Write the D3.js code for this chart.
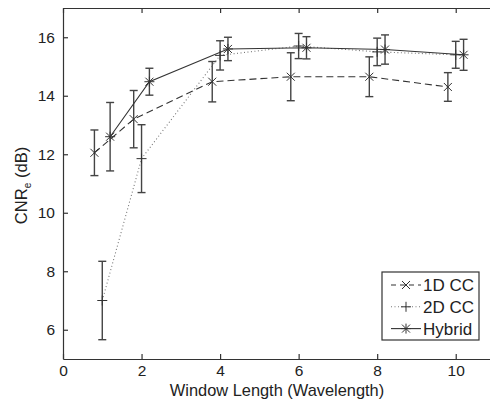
<!DOCTYPE html>
<html>
<head>
<meta charset="utf-8">
<script src="https://cdn.jsdelivr.net/npm/d3@7"></script>
<style>
  body { margin: 0; background: #fff; }
  svg { display: block; font-family: Arial, "Liberation Sans", sans-serif; }
</style>
</head>
<body>
<div id="chart"></div>
<script>
// values
var series_names = ["1D CC", "2D CC", "Hybrid"];

var x_1d = [0.8, 1.8, 3.8, 5.8, 7.8, 9.8];
var y_1d = [12.05, 13.2, 14.48, 14.65, 14.65, 14.3];
var e_1d = [0.78, 0.98, 0.69, 0.82, 0.68, 0.49];

var x_2d = [1.0, 2.0, 4.0, 6.0, 8.0, 10.0];
var y_2d = [7.0, 11.85, 15.38, 15.7, 15.5, 15.4];
var e_2d = [1.34, 1.16, 0.5, 0.43, 0.47, 0.46];

var x_hy = [1.2, 2.2, 4.2, 6.2, 8.2, 10.2];
var y_hy = [12.6, 14.48, 15.6, 15.64, 15.58, 15.4];
var e_hy = [1.17, 0.46, 0.4, 0.38, 0.5, 0.53];

var x_ticks = [0, 2, 4, 6, 8, 10];
var y_ticks = [6, 8, 10, 12, 14, 16];

var svg_width = 490,
    svg_height = 402,
    margin = {top: 8, right: -5, bottom: 43, left: 63},
    width = svg_width - margin.left - margin.right,
    height = svg_height - margin.top - margin.bottom;

var ink = "#333";

var svg = d3.select("#chart").append("svg")
    .attr("width", svg_width)
    .attr("height", svg_height);

var g = svg.append("g")
    .attr("transform", "translate(" + margin.left + "," + margin.top + ")");

var x = d3.scaleLinear().domain([0, 11]).range([0, width]);
var y = d3.scaleLinear().domain([5, 17]).range([height, 0]);

// axes, matlab style: ticks pointing inward, box all round
var xAxis = g.append("g")
    .attr("transform", "translate(0," + height + ")")
    .call(d3.axisBottom(x).tickValues(x_ticks).tickSizeInner(-5).tickSizeOuter(0).tickPadding(6));
var yAxis = g.append("g")
    .call(d3.axisLeft(y).tickValues(y_ticks).tickSizeInner(-5).tickSizeOuter(0).tickPadding(8));
g.append("g")
    .call(d3.axisTop(x).tickValues(x_ticks).tickSizeInner(-5).tickSizeOuter(0).tickFormat(""));
g.append("g")
    .attr("transform", "translate(" + width + ",0)")
    .call(d3.axisRight(y).tickValues(y_ticks).tickSizeInner(-5).tickSizeOuter(0).tickFormat(""));

g.selectAll(".domain, .tick line").attr("stroke", ink).attr("stroke-width", 1.2);
g.selectAll(".tick text").attr("fill", "#222").style("font-size", "15.5px");

// axis titles
g.append("text")
    .attr("x", width / 2 - 2)
    .attr("y", height + 37)
    .attr("text-anchor", "middle")
    .attr("fill", "#222")
    .style("font-size", "16.4px")
    .text("Window Length (Wavelength)");

var ylab = g.append("text")
    .attr("text-anchor", "middle")
    .attr("transform", "translate(" + (27 - margin.left) + "," + (height / 2 + 2) + ")rotate(-90)")
    .attr("fill", "#222")
    .style("font-size", "16.6px");
ylab.append("tspan").text("CNR");
ylab.append("tspan").attr("dy", 4).style("font-size", "10px").text("e");
ylab.append("tspan").attr("dy", -4).text(" (dB)");

// marker shapes
function drawMarker(sel, type, cx, cy) {
    var s = 4;
    var path;
    if (type == "x") {
        path = "M" + (cx - s) + "," + (cy - s) + "L" + (cx + s) + "," + (cy + s) +
               "M" + (cx - s) + "," + (cy + s) + "L" + (cx + s) + "," + (cy - s);
    } else if (type == "+") {
        path = "M" + (cx - 5) + "," + cy + "L" + (cx + 5) + "," + cy +
               "M" + cx + "," + (cy - 5) + "L" + cx + "," + (cy + 5);
    } else {
        path = "M" + (cx - 5) + "," + cy + "L" + (cx + 5) + "," + cy +
               "M" + (cx - s) + "," + (cy - s) + "L" + (cx + s) + "," + (cy + s) +
               "M" + (cx - s) + "," + (cy + s) + "L" + (cx + s) + "," + (cy - s) +
               "M" + cx + "," + (cy - 5) + "L" + cx + "," + (cy + 5);
    }
    sel.append("path").attr("d", path).attr("stroke", ink).attr("stroke-width", 1).attr("fill", "none");
}

var series = [
    {xs: x_1d, ys: y_1d, es: e_1d, dash: "7,4", marker: "x"},
    {xs: x_2d, ys: y_2d, es: e_2d, dash: "1,2.5", marker: "+"},
    {xs: x_hy, ys: y_hy, es: e_hy, dash: null, marker: "*"}
];

var line = d3.line()
    .x(function(d) { return x(d[0]); })
    .y(function(d) { return y(d[1]); });

series.forEach(function(s) {
    var pts = s.xs.map(function(v, i) { return [v, s.ys[i], s.es[i]]; });

    var sg = g.append("g");

    // error bars
    pts.forEach(function(p) {
        var cx = x(p[0]), top = y(p[1] + p[2]), bot = y(p[1] - p[2]);
        sg.append("line").attr("x1", cx).attr("x2", cx).attr("y1", top).attr("y2", bot)
            .attr("stroke", "#444").attr("stroke-width", 1.4);
        sg.append("line").attr("x1", cx - 4).attr("x2", cx + 4).attr("y1", top).attr("y2", top)
            .attr("stroke", "#444").attr("stroke-width", 1.4);
        sg.append("line").attr("x1", cx - 4).attr("x2", cx + 4).attr("y1", bot).attr("y2", bot)
            .attr("stroke", "#444").attr("stroke-width", 1.4);
    });

    sg.append("path")
        .datum(pts)
        .attr("d", line)
        .attr("fill", "none")
        .attr("stroke", s.dash == "1,2.5" ? "#777" : ink)
        .attr("stroke-width", 1.1)
        .attr("stroke-dasharray", s.dash);

    pts.forEach(function(p) {
        drawMarker(sg, s.marker, x(p[0]), y(p[1]));
    });
});

// legend
var lg = svg.append("g").attr("transform", "translate(382,272)");
lg.append("rect")
    .attr("width", 97).attr("height", 68)
    .attr("fill", "#fff").attr("stroke", ink).attr("stroke-width", 1.2);

series.forEach(function(s, i) {
    var ly = 13 + i * 21.8;
    lg.append("line")
        .attr("x1", 9).attr("x2", 39).attr("y1", ly).attr("y2", ly)
        .attr("stroke", s.dash == "1,2.5" ? "#777" : ink)
        .attr("stroke-width", 1.1)
        .attr("stroke-dasharray", s.dash == "7,4" ? "5,4" : s.dash);
    drawMarker(lg, s.marker, 24, ly);
    lg.append("text")
        .attr("x", 41).attr("y", ly + 6)
        .attr("fill", "#222")
        .style("font-size", "17px")
        .text(series_names[i]);
});
</script>
</body>
</html>
